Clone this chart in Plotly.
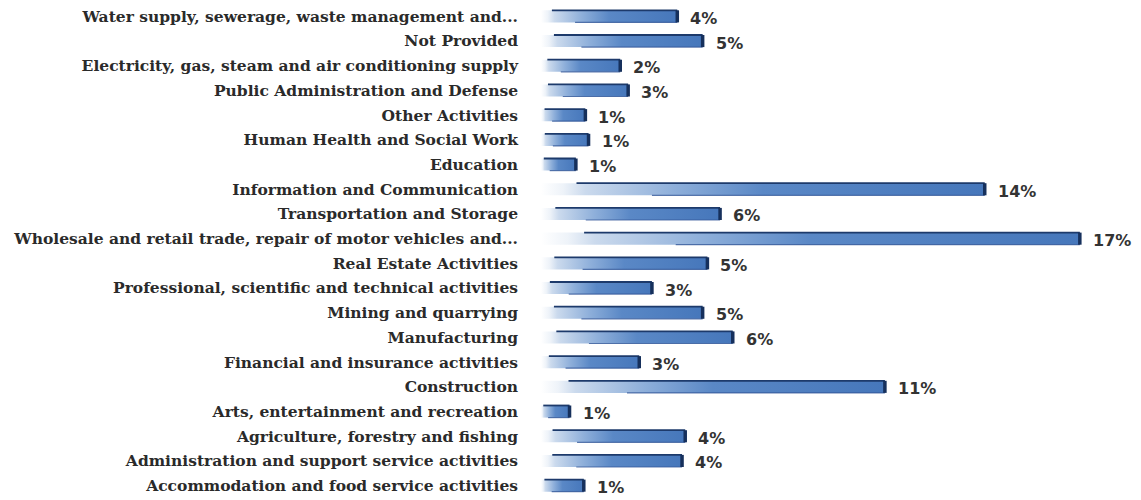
import plotly.graph_objects as go

categories = [
    "Water supply, sewerage, waste management and...",
    "Not Provided",
    "Electricity, gas, steam and air conditioning supply",
    "Public Administration and Defense",
    "Other Activities",
    "Human Health and Social Work",
    "Education",
    "Information and Communication",
    "Transportation and Storage",
    "Wholesale and retail trade, repair of motor vehicles and...",
    "Real Estate Activities",
    "Professional, scientific and technical activities",
    "Mining and quarrying",
    "Manufacturing",
    "Financial and insurance activities",
    "Construction",
    "Arts, entertainment and recreation",
    "Agriculture, forestry and fishing",
    "Administration and support service activities",
    "Accommodation and food service activities",
]
values = [4.3, 5.1, 2.5, 2.75, 1.4, 1.5, 1.1, 14.0, 5.65, 17.0,
          5.25, 3.5, 5.1, 6.05, 3.1, 10.85, 0.9, 4.55, 4.45, 1.35]
value_labels = ["4%", "5%", "2%", "3%", "1%", "1%", "1%", "14%", "6%", "17%",
                "5%", "3%", "5%", "6%", "3%", "11%", "1%", "4%", "4%", "1%"]

half = 0.245
fig = go.Figure()

gradient = dict(type="horizontal",
                colorscale=[[0, "#ffffff"], [0.05, "#eef3f9"], [0.1, "#cbdaed"],
                            [0.3, "#8eafda"], [0.5, "#5a88c6"], [1, "#4677bb"]])

for i, v in enumerate(values):
    fig.add_trace(go.Scatter(
        x=[0, v, v, 0, 0], y=[i + half, i + half, i - half, i - half, i + half],
        mode="lines", fill="toself", line=dict(width=0),
        fillgradient=gradient, hoverinfo="skip", showlegend=False))

# top edges, bottom edges and right caps
tx, ty, bx, by, cx, cy = [], [], [], [], [], []
for i, v in enumerate(values):
    tx += [v * 0.08, v, None]
    ty += [i - half, i - half, None]
    bx += [v * 0.25, v, None]
    by += [i + half, i + half, None]
    cx += [v, v, None]
    cy += [i - half, i + half, None]
fig.add_trace(go.Scatter(x=bx, y=by, mode="lines", line=dict(color="#34599a", width=1.2),
                         opacity=0.8, hoverinfo="skip", showlegend=False))
fig.add_trace(go.Scatter(x=tx, y=ty, mode="lines", line=dict(color="#1d3a6b", width=1.8),
                         hoverinfo="skip", showlegend=False))
fig.add_trace(go.Scatter(x=cx, y=cy, mode="lines", line=dict(color="#16305c", width=3.5),
                         hoverinfo="skip", showlegend=False))

for i, (v, t) in enumerate(zip(values, value_labels)):
    fig.add_annotation(x=v, y=i, text="<b>%s</b>" % t, showarrow=False,
                       xanchor="left", yanchor="middle", xshift=11, yshift=-2,
                       font=dict(family="DejaVu Sans", size=16, color="#333333"))

fig.update_layout(
    width=1141, height=500,
    margin=dict(l=541, r=0, t=4, b=2),
    paper_bgcolor="white", plot_bgcolor="white",
    showlegend=False,
    xaxis=dict(range=[0, 18.93], visible=False, showgrid=False, zeroline=False),
    yaxis=dict(range=[19.5, -0.5], tickmode="array",
               tickvals=list(range(len(categories))), ticktext=categories,
               showgrid=False, zeroline=False, showline=False, ticks="",
               ticklabelstandoff=22,
               tickfont=dict(family="DejaVu Serif", size=15.5, color="#2a2a2a",
                             weight="bold")),
)

fig.write_html("out.html")
